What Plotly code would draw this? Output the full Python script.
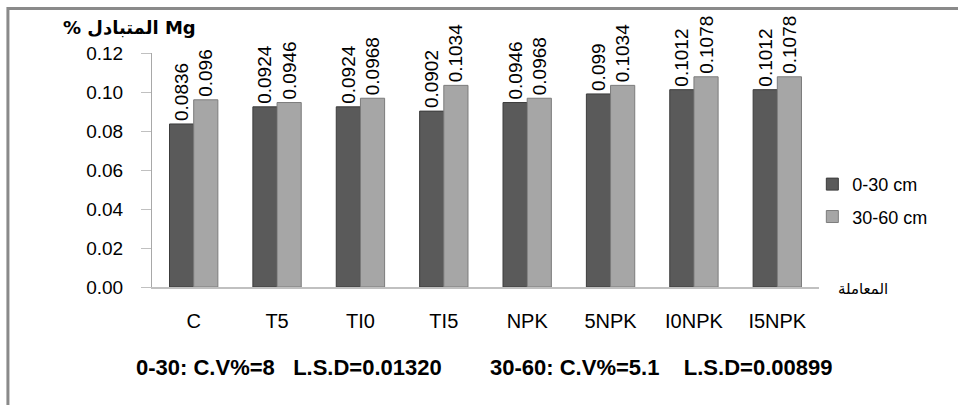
import plotly.graph_objects as go

categories = ["C", "T5", "T10", "T15", "NPK", "5NPK", "10NPK", "15NPK"]
tick_labels = ["C", "T5", "TI0", "TI5", "NPK", "5NPK", "I0NPK", "I5NPK"]
depth_0_30 = [0.0836, 0.0924, 0.0924, 0.0902, 0.0946, 0.099, 0.1012, 0.1012]
depth_30_60 = [0.096, 0.0946, 0.0968, 0.1034, 0.0968, 0.1034, 0.1078, 0.1078]
series_names = ["0-30 cm", "30-60 cm"]
y_ticks = [0.0, 0.02, 0.04, 0.06, 0.08, 0.10, 0.12]
y_tick_text = ["0.00", "0.02", "0.04", "0.06", "0.08", "0.10", "0.12"]
title_text = "% المتبادل Mg"
x_title = "المعاملة"
stats_0_30 = "0-30: C.V%=8   L.S.D=0.01320"
stats_30_60 = "30-60: C.V%=5.1    L.S.D=0.00899"

FONT = "Liberation Sans Narrow, Liberation Sans, Arial, sans-serif"

fig = go.Figure()
for vals, name, col, edge, grp in [
    (depth_0_30, series_names[0], "#5a5a5a", "#3c3c3c", "a"),
    (depth_30_60, series_names[1], "#a6a6a6", "#7c7c7c", "b"),
]:
    fig.add_trace(go.Bar(
        x=categories, y=vals, name=name, legendgroup=grp,
        marker=dict(color=col, line=dict(color=edge, width=1)),
        text=[f"{v:g}" for v in vals], textposition="outside", textangle=-90,
        constraintext="none",
        textfont=dict(family=FONT, size=19, color="#000"), cliponaxis=False,
    ))

fig.update_layout(
    width=958, height=405,
    margin=dict(l=152, r=139, t=53, b=118, autoexpand=False),
    paper_bgcolor="white", plot_bgcolor="white",
    barmode="group", bargap=0.42, bargroupgap=0,
    font=dict(family=FONT, size=18, color="#000"),
    showlegend=True,
    legend=dict(x=0.99, y=0.37, xanchor="left", yanchor="middle",
                font=dict(family=FONT, size=18), bgcolor="rgba(0,0,0,0)",
                itemwidth=30, tracegroupgap=6),
)
fig.update_xaxes(
    type="category", tickvals=categories, ticktext=tick_labels,
    showline=True, linecolor="#c0c0c0", linewidth=1.5, ticks="",
    tickfont=dict(family=FONT, size=20), ticklabelstandoff=15,
    automargin=False,
)
fig.update_yaxes(
    range=[0, 0.12], tickvals=y_ticks, ticktext=y_tick_text,
    showline=True, linecolor="#a8a8a8", linewidth=1,
    ticks="outside", ticklen=10, tickcolor="#c0c0c0",
    showgrid=False, zeroline=False, ticklabelstandoff=14,
    tickfont=dict(family=FONT, size=19), automargin=False,
)

fig.add_annotation(xref="paper", yref="paper", x=-0.033, y=1.107,
                   xanchor="center", yanchor="middle", showarrow=False,
                   text="<b>" + title_text + "</b>",
                   font=dict(family="DejaVu Sans, sans-serif", size=18))
fig.add_annotation(xref="paper", yref="paper", x=1.025, y=-0.01,
                   xanchor="left", yanchor="middle", showarrow=False,
                   text=x_title, font=dict(family="DejaVu Sans, sans-serif", size=15))
fig.add_annotation(xref="paper", yref="paper", x=0.205, y=-0.342,
                   xanchor="center", yanchor="middle", showarrow=False,
                   text="<b>" + stats_0_30 + "</b>",
                   font=dict(family=FONT, size=22))
fig.add_annotation(xref="paper", yref="paper", x=0.763, y=-0.342,
                   xanchor="center", yanchor="middle", showarrow=False,
                   text="<b>" + stats_30_60 + "</b>",
                   font=dict(family=FONT, size=22))

# outer frame (only its top and left edges fall inside the picture)
fig.add_shape(type="rect", xref="paper", yref="paper",
              x0=-0.216, x1=1.25, y0=1.19, y1=-0.6,
              line=dict(color="#8a8a8a", width=3), fillcolor="rgba(0,0,0,0)",
              layer="above")

fig.write_html("out.html", config={"displayModeBar": False},
               post_script="document.body.style.margin='0';")
